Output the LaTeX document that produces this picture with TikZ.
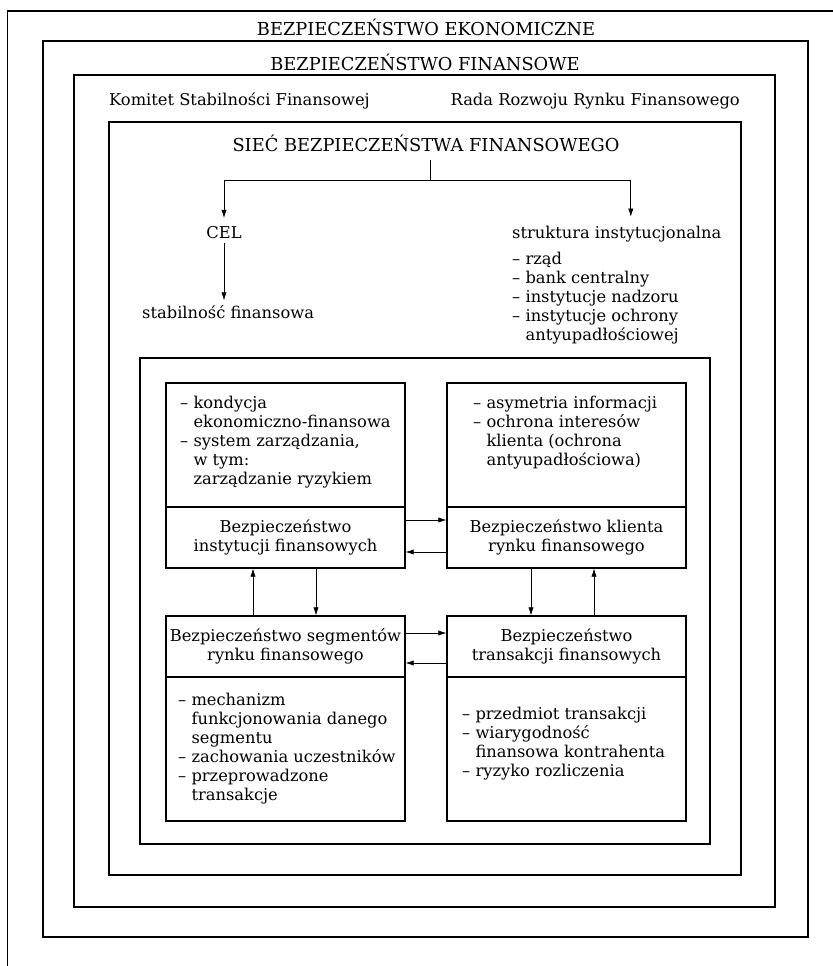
\documentclass[tikz,border=0pt]{standalone}
\usepackage{fontspec}
\setmainfont{DejaVu Serif}
\usetikzlibrary{calc,arrows.meta}

\tikzset{
  ramka/.style={line width=0.9pt},
  naglowek/.style={font=\fontsize{15.2}{17}\selectfont},
  pole/.style={draw, line width=0.9pt, inner sep=0pt, minimum width=7.17cm, align=center},
  lista/.style={anchor=west, align=left, inner sep=0pt},
  strz/.style={line width=0.6pt, -{Latex[length=7pt,width=4.5pt]}},
}
\newcommand{\wc}{\hphantom{– }}

\begin{document}
\begin{tikzpicture}[x=0.03cm, y=-0.03cm, font=\fontsize{13.9}{16.2}\selectfont]
    \useasboundingbox (0,0) rectangle (833,966);
    \clip (0,0) rectangle (833,966);
    % nested frames
    \draw[ramka] (7.5,11) rectangle (860,990);
    \node[naglowek] (ekon) at (426,27) {BEZPIECZEŃSTWO EKONOMICZNE};
    \draw[ramka] (43,41) rectangle (808,937);
    \node[naglowek] (fin) at (425,62) {BEZPIECZEŃSTWO FINANSOWE};
    \draw[ramka] (74,75) rectangle (775,907);
    \node[anchor=west, inner sep=0pt] (komitet) at (109,101) {Komitet Stabilności Finansowej};
    \node[anchor=east, inner sep=0pt] (rada) at (740,101) {Rada Rozwoju Rynku Finansowego};
    \draw[ramka] (109,122) rectangle (741,875);
    \node[naglowek] (siec) at (426,143) {SIEĆ BEZPIECZEŃSTWA FINANSOWEGO};
    \coordinate (rozw) at (430,180);
    \node (cel) at (224,233) {CEL};
    \node[anchor=west, inner sep=0pt] (stab) at (142,312) {stabilność finansowa};
    \node[anchor=west, inner sep=0pt] (struktura) at (512,234) {struktura instytucjonalna};
    \node[lista] (instytucje) at (512,298) {– rząd\\– bank centralny\\– instytucje nadzoru\\– instytucje ochrony\\\wc antyupadłościowej};
    \draw[line width=0.6pt, shorten <=4pt] (rozw |- siec.south) -- (rozw);
    \draw[strz] (rozw) -| ([yshift=4pt]cel.north);
    \draw[strz] (rozw) -| ($(struktura.north)+(14,-9)$);
    \draw[strz] (cel) -- ([yshift=4pt]cel |- stab.north);
    % inner frame with four areas
    \draw[ramka] (140,358) rectangle (710,844);
    \node[pole, minimum height=3.72cm] (instytOpis) at (285.5,445) {};
    \node[pole, minimum height=1.83cm] (instyt) at (285.5,537.5) {Bezpieczeństwo\\instytucji finansowych};
    \node[pole, minimum height=3.72cm] (klientOpis) at (566.5,445) {};
    \node[pole, minimum height=1.83cm] (klient) at (566.5,537.5) {Bezpieczeństwo klienta\\rynku finansowego};
    \node[pole, minimum height=1.83cm] (segment) at (285.5,646.5) {Bezpieczeństwo segmentów\\rynku finansowego};
    \node[pole, minimum height=4.32cm] (segmentOpis) at (285.5,749) {};
    \node[pole, minimum height=1.83cm] (transakcje) at (566.5,646.5) {Bezpieczeństwo\\transakcji finansowych};
    \node[pole, minimum height=4.32cm] (transakcjeOpis) at (566.5,749) {};
    \draw[line width=1.4pt] (instyt.north west) -- (instyt.north east);
    \draw[line width=1.4pt] (klient.north west) -- (klient.north east);
    \draw[line width=1.4pt] (segment.south west) -- (segment.south east);
    \draw[line width=1.4pt] (transakcje.south west) -- (transakcje.south east);
    \node[lista] (instytLista) at (180,442) {– kondycja\\\wc ekonomiczno-finansowa\\– system zarządzania,\\\wc w tym:\\\wc zarządzanie ryzykiem};
    \node[lista] (klientLista) at (473,433) {– asymetria informacji\\– ochrona interesów\\\wc klienta (ochrona\\\wc antyupadłościowa)};
    \node[lista] (segmentLista) at (178,749) {– mechanizm\\\wc funkcjonowania danego\\\wc segmentu\\– zachowania uczestników\\– przeprowadzone\\\wc transakcje};
    \node[lista] (transakcjeLista) at (462,743.5) {– przedmiot transakcji\\– wiarygodność\\\wc finansowa kontrahenta\\– ryzyko rozliczenia};
    % arrows between areas
    \draw[strz] ($(instyt.east)+(0,-17.5)$) -- ($(klient.west)+(0,-17.5)$);
    \draw[strz] ($(klient.west)+(0,14.5)$) -- ($(instyt.east)+(0,14.5)$);
    \draw[strz] ($(segment.east)+(0,-13.5)$) -- ($(transakcje.west)+(0,-13.5)$);
    \draw[strz] ($(transakcje.west)+(0,16.5)$) -- ($(segment.east)+(0,16.5)$);
    \draw[strz] ($(segment.north)+(-32.5,0)$) -- ($(instyt.south)+(-32.5,0)$);
    \draw[strz] ($(instyt.south)+(30.5,0)$) -- ($(segment.north)+(30.5,0)$);
    \draw[strz] ($(klient.south)+(-35.5,0)$) -- ($(transakcje.north)+(-35.5,0)$);
    \draw[strz] ($(transakcje.north)+(27.5,0)$) -- ($(klient.south)+(27.5,0)$);
\end{tikzpicture}
\end{document}
